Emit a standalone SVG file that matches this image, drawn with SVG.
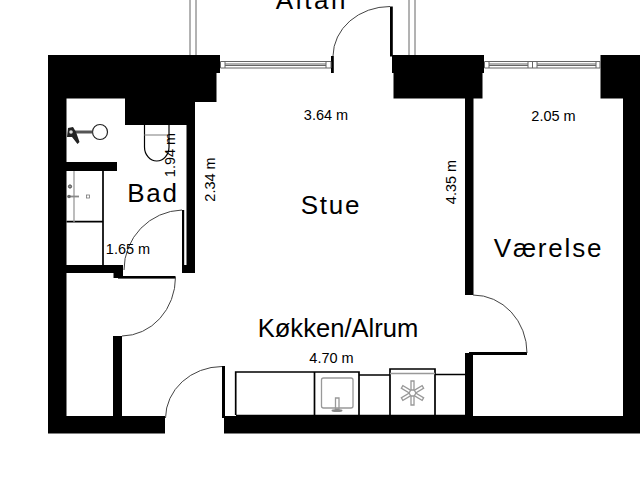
<svg xmlns="http://www.w3.org/2000/svg" width="640" height="480" viewBox="0 0 640 480">
<style>
text{font-family:"Liberation Sans",Arial,sans-serif;fill:#000}
.big{font-size:26px;letter-spacing:1.8px}
.dim{font-size:14.5px}
.wall{fill:#000;stroke:none}
.thin{fill:none;stroke:#444;stroke-width:1}
.blk{fill:none;stroke:#000;stroke-width:1.7}
.gry{fill:none;stroke:#999;stroke-width:1.3}
.win{fill:#fff;stroke:#666;stroke-width:1}
</style>
<rect width="640" height="480" fill="#fff"/>
<g id="walls">
<path class="wall" d="M48 55H220V73H216.500V102H195V273H182V265H186.500V125H125V98.500H66.500V162H117V171H66.500V265H123V278H113.500V273H66.500V416H113V336H122V416H165V433.500H48Z"/>
<path class="wall" d="M224 416H465V353H473V416H623V98.500H600.500V55H640V433.500H224Z"/>
<path class="wall" d="M392 55H484V73H482.500V98.500H473.500V295H465V98.500H393.500V73H392Z"/>
<rect class="wall" x="222" y="366" width="3" height="52"/>
<rect class="wall" x="390" y="6.500" width="2.800" height="50"/>
<rect class="wall" x="331" y="56" width="2.800" height="17"/>
<rect class="wall" x="118" y="276" width="57.500" height="2.600"/>
<rect class="wall" x="182" y="210" width="2.200" height="56"/>
<rect class="wall" x="469" y="352" width="58" height="3"/>
</g>
<g id="windows">
<path class="win" d="M220.500 61.500H331V68H220.500Z"/>
<path class="win" d="M225 64H326M225 65.500H326M225 61.500V68M326 61.500V68"/>
<path class="win" d="M484.500 61.500H600V68H484.500Z"/>
<path class="win" d="M489 64H528M537 64H596M489 65.500H528M537 65.500H596M489 61.500V68M596 61.500V68M528 61.500V68M532.500 61.500V68M537 61.500V68"/>
<path class="win" d="M190 0V55M196 0V55M409 0V55M415 0V55"/>
</g>
<g id="connectors">
<path class="thin" d="M333 56A57 50 0 0 1 390 6.500"/>
<path class="thin" d="M182 210A60 60 0 0 0 124 270"/>
<path class="thin" d="M122 336A54 59 0 0 0 175.500 277"/>
<path class="thin" d="M165.500 418A57 52 0 0 1 222 366.500"/>
<path class="thin" d="M473 295A54 58 0 0 1 527 353"/>
</g>
<g id="fixtures">
<path class="blk" d="M144.500 125V147A12.250 14 0 0 0 169 147V125" style="stroke-width:1.200"/>
<path class="gry" d="M144.500 135H169"/>
<circle cx="100" cy="132" r="7.500" fill="#fff" stroke="#222" stroke-width="1.200"/>
<path d="M70 130.500H92.500V133.500H70Z" fill="#555"/>
<path d="M68 128L73 127L76 132L79.500 142L77.500 144L72 137L67 137Z" fill="#222"/>
<circle cx="71" cy="132" r="1.800" fill="#ddd"/>
<path class="blk" d="M103 171V265M66.500 221.700H103"/>
<path class="gry" d="M74 171V222"/>
<circle cx="70" cy="186.500" r="1.600" fill="#999" stroke="#444"/>
<path d="M68 196.500H79" stroke="#888" stroke-width="1.800"/>
<circle cx="69" cy="196.500" r="1.800" fill="#666"/>
<rect x="86.500" y="195" width="3" height="3" fill="#fff" stroke="#777" stroke-width=".8"/>
<path class="blk" d="M235.700 415V372H359V415M314.500 372V415M359 375H390M390 415V369H435V415M435 374.500H465M236 415.500H465"/>
<path class="gry" d="M390 373.500H435"/>
<rect class="gry" x="321.500" y="378" width="31.500" height="30" rx="2"/>
<path class="gry" d="M335.500 398H339V409H335.500Z"/>
<ellipse cx="337" cy="410.500" rx="5.500" ry="1.500" fill="#888"/>
<g class="gry" transform="translate(412.500 393)"><path d="M-1.500 -3 L-1.500 -12H1.500L1.500 -3Z"/><path d="M-1.500 -3 L-1.500 -12H1.500L1.500 -3Z" transform="rotate(60)"/><path d="M-1.500 -3 L-1.500 -12H1.500L1.500 -3Z" transform="rotate(120)"/><path d="M-1.500 -3 L-1.500 -12H1.500L1.500 -3Z" transform="rotate(180)"/><path d="M-1.500 -3 L-1.500 -12H1.500L1.500 -3Z" transform="rotate(240)"/><path d="M-1.500 -3 L-1.500 -12H1.500L1.500 -3Z" transform="rotate(300)"/></g>
</g>
<g id="labels">
<text class="big" x="312" y="9" text-anchor="middle" style="letter-spacing:2.600px">Altan</text>
<text class="big" x="153" y="202" text-anchor="middle">Bad</text>
<text class="big" x="331" y="214" text-anchor="middle">Stue</text>
<text class="big" x="548.500" y="257" text-anchor="middle">Værelse</text>
<text x="338" y="337" text-anchor="middle" style="font-size:25.600px">Køkken/Alrum</text>
<text class="dim" x="326" y="120" text-anchor="middle">3.64 m</text>
<text class="dim" x="553.500" y="121" text-anchor="middle">2.05 m</text>
<text class="dim" x="128" y="254" text-anchor="middle">1.65 m</text>
<text class="dim" x="331.500" y="363" text-anchor="middle">4.70 m</text>
<text class="dim" transform="translate(215 179.500) rotate(-90)" text-anchor="middle">2.34 m</text>
<text class="dim" transform="translate(175 155) rotate(-90)" text-anchor="middle">1.94 m</text>
<text class="dim" transform="translate(456 182) rotate(-90)" text-anchor="middle">4.35 m</text>
</g>
</svg>
